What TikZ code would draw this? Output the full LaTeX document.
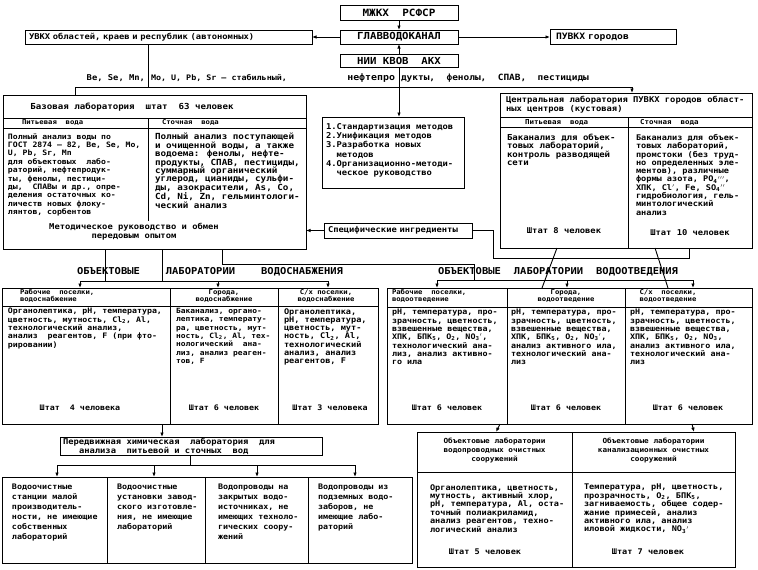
\documentclass[tikz,border=0pt]{standalone}
\usepackage{fontspec}
\setmainfont{DejaVu Sans Mono}[FakeStretch=1.1]
\usetikzlibrary{arrows.meta}
\newcommand{\myfs}[2]{\fontsize{#1}{#2}\selectfont\bfseries}
\newcommand{\sbs}[1]{\textsubscript{#1}}
\begin{document}
\begin{tikzpicture}[x=1pt,y=-1pt,
  box/.style={draw, line width=0.9pt, inner sep=0pt, outer sep=0pt},
  tx/.style={inner sep=0pt, outer sep=0pt, align=left, anchor=north west},
  arr/.style={line width=0.9pt, -{Latex[length=4.5pt,width=3.5pt]}},
  ln/.style={line width=0.9pt}]
\useasboundingbox[fill=white] (0,0) rectangle (758,570);

% ---------- top ----------
\node[box, minimum width=118pt, minimum height=15pt, font=\myfs{10}{11}] (mz) at (399,12.5) {МЖКХ\ \ РСФСР};
\node[box, minimum width=118pt, minimum height=14pt, font=\myfs{9.7}{11}] (glav) at (399,37) {ГЛАВВОДОКАНАЛ};
\node[box, minimum width=118pt, minimum height=13pt, font=\myfs{9.7}{11}] (nii) at (399,60.5) {НИИ КВОВ\ \ АКХ};
\node[box, anchor=west, minimum height=14pt, text width=279pt, inner xsep=4pt, align=left, font=\myfs{8}{9}] (uvkx) at (25,37) {УВКХ областей, краев и республик (автономных)};
\node[box, anchor=west, minimum height=15pt, text width=114pt, inner xsep=6pt, align=left, font=\myfs{8.8}{9}] (puv) at (550,37) {ПУВКХ городов};
\draw[arr] (mz) -- (glav);
\draw[arr] (nii) -- (glav);
\draw[arr] (glav) -- (uvkx);
\draw[arr] (glav) -- (puv);

\node[tx, anchor=base east, font=\myfs{8}{9}] (l1) at (145,80) {Be, Se, Mn,};
\node[tx, anchor=base west, font=\myfs{7.6}{9}] (l2) at (151,80) {Mo, U, Pb, Sr – стабильный,};
\node[tx, anchor=base east, font=\myfs{9}{9}] (l3) at (395,80) {нефтепро};
\node[tx, anchor=base west, font=\myfs{8.6}{9}] (l4) at (401,80) {дукты,\ \ фенолы,\ \ СПАВ,\ \ пестициды};

% ---------- base laboratory ----------
\node[box, minimum width=303pt, minimum height=154pt, anchor=north west] (base) at (3,95) {};
\draw[ln] (3,118) -- (306,118);
\draw[ln] (3,128) -- (306,128);
\draw[ln] (148,118) -- (148,221);
\node[font=\myfs{8.3}{9}, inner sep=0pt] (bt) at (132,107) {Базовая лаборатория\ \ штат\ \ 63 человек};
\node[tx, anchor=west, font=\myfs{6.6}{8}] (bh1) at (22,123) {Питьевая\ \ вода};
\node[tx, anchor=west, font=\myfs{6.6}{8}] (bh2) at (162,123) {Сточная\ \ вода};
\node[tx, font=\myfs{7.4}{8.4}] (bl) at (8,133.3) {Полный анализ воды по\\
ГОСТ 2874 – 82, Be, Se, Mo,\\
U, Pb, Sr, Mn\\
для объектовых\ \ лабо-\\
раторий, нефтепродук-\\
ты, фенолы, пестици-\\
ды,\ \ СПАВы и др., опре-\\
деления остаточных ко-\\
личеств новых флоку-\\
лянтов, сорбентов};
\node[tx, font=\myfs{8.4}{8.4}] (br) at (155,133.3) {Полный анализ поступающей\\
и очищенной воды, а также\\
водоема: фенолы, нефте-\\
продукты, СПАВ, пестициды,\\
суммарный органический\\
углерод, цианиды, сульфи-\\
ды, азокрасители, As, Co,\\
Cd, Ni, Zn, гельминтологи-\\
ческий анализ};
\node[inner sep=0pt, anchor=north, align=center, font=\myfs{8}{9}] (bm) at (134,223.3) {Методическое руководство и обмен\\передовым опытом};

% ---------- bus from top ----------
\coordinate (busL) at (75,87);
\coordinate (busR) at (632,87);
\coordinate (j1) at (148,87);

% ---------- central laboratory ----------
\node[box, minimum width=252pt, minimum height=155pt, anchor=north west] (cent) at (500,93) {};
\draw[ln] (500,117) -- (752,117);
\draw[ln] (500,127) -- (752,127);
\draw[ln] (628,117) -- (628,248);
\node[tx, font=\myfs{8}{9}] (ct) at (506,96.3) {Центральная лаборатория ПУВКХ городов област-\\ных центров (кустовая)};
\node[tx, anchor=west, font=\myfs{6.8}{8}] (ch1) at (525,122) {Питьевая\ \ вода};
\node[tx, anchor=west, font=\myfs{6.8}{8}] (ch2) at (640,122) {Сточная\ \ вода};
\node[tx, font=\myfs{8.2}{8}] (cl) at (507,134.3) {Баканализ для объек-\\
товых лабораторий,\\
контроль разводящей\\
сети};
\node[tx, font=\myfs{7.8}{8.3}] (cr) at (636,134.3) {Баканализ для объек-\\
товых лабораторий,\\
промстоки (без труд-\\
но определенных эле-\\
ментов), различные\\
формы азота, PO\sbs{4}$'''$,\\
ХПК, Cl$'$, Fe, SO\sbs{4}$''$\\
гидробиология, гель-\\
минтологический\\
анализ};
\node[font=\myfs{8}{9}, inner sep=0pt] (cs1) at (564,231) {Штат 8 человек};
\node[font=\myfs{8}{9}, inner sep=0pt] (cs2) at (690,233) {Штат 10 человек};

\draw[ln] (base.north -| busL) -- (busL) -- (busR);
\draw[arr] (busR) -- (busR |- cent.north);
\draw[ln] (uvkx.south -| j1) -- (j1);

% ---------- methods ----------
\node[box, minimum width=142pt, minimum height=71pt, anchor=north west] (meth) at (322,117) {};
\node[tx, font=\myfs{8}{9.3}] (mt) at (326,123.3) {1.Стандартизация методов\\
2.Унификация методов\\
3.Разработка новых\\
\ \ методов\\
4.Организационно-методи-\\
\ \ ческое руководство};
\draw[arr] (nii.south) -- (nii.south |- meth.north);

% ---------- specific ingredients ----------
\node[box, anchor=west, minimum height=15pt, text width=140pt, inner xsep=4pt, align=left, font=\myfs{8}{9}] (spec) at (324,230.5) {Специфические ингредиенты};
\draw[arr] (spec.west) -- (spec.west -| base.east);
\coordinate (c2) at (493,258);
\coordinate (c3) at (689,258);
\draw[ln] (spec.east) -- (spec.east -| c2) -- (c2) -- (c3) -- (c3 |- cent.south);

% ---------- headings ----------
\node[tx, anchor=west, text width=266pt, font=\myfs{9.5}{10}] (hs) at (77,272) {ОБЪЕКТОВЫЕ\hspace{26pt}ЛАБОРАТОРИИ\hfill ВОДОСНАБЖЕНИЯ};
\node[tx, anchor=west, text width=240pt, font=\myfs{9.5}{10}] (ho) at (438,272) {ОБЪЕКТОВЫЕ\hfill ЛАБОРАТОРИИ\hfill ВОДООТВЕДЕНИЯ};

% ---------- water supply labs ----------
\node[box, minimum width=168pt, minimum height=136pt, anchor=north west] (ws1) at (2,288) {};
\node[box, minimum width=108pt, minimum height=136pt, anchor=north west] (ws2) at (170,288) {};
\node[box, minimum width=100pt, minimum height=136pt, anchor=north west] (ws3) at (278,288) {};
\draw[ln] (2,306) -- (378,306);
\node[tx, font=\myfs{6.6}{7}] (ws1h) at (20,289.8) {Рабочие\ \ поселки,\\водоснабжение};
\node[tx, anchor=north, align=center, font=\myfs{6.6}{7}] (ws2h) at (224,289.8) {Города,\\водоснабжение};
\node[tx, anchor=north, align=center, font=\myfs{6.6}{7}] (ws3h) at (326,289.8) {С/х поселки,\\водоснабжение};
\node[tx, font=\myfs{7.5}{8.3}] (ws1t) at (8,308.3) {Органолептика, pH, температура,\\
цветность, мутность, Cl\sbs{2}, Al,\\
технологический анализ,\\
анализ\ \ реагентов, F (при фто-\\
рировании)};
\node[tx, font=\myfs{7.2}{8.3}] (ws2t) at (176,308.3) {Баканализ, органо-\\
лептика, температу-\\
ра, цветность, мут-\\
ность, Cl\sbs{2}, Al, тех-\\
нологический\ \ ана-\\
лиз, анализ реаген-\\
тов, F};
\node[tx, font=\myfs{7.8}{8.3}] (ws3t) at (284,308.3) {Органолептика,\\
pH, температура,\\
цветность, мут-\\
ность, Cl\sbs{2}, Al,\\
технологический\\
анализ, анализ\\
реагентов, F};
\node[font=\myfs{7.6}{9}, inner sep=0pt] (ws1s) at (80,408) {Штат\ \ 4 человека};
\node[font=\myfs{7.6}{9}, inner sep=0pt] (ws2s) at (224,408) {Штат 6 человек};
\node[font=\myfs{7.6}{9}, inner sep=0pt] (ws3s) at (330,408) {Штат 3 человека};

\coordinate (wsbL) at (80,281);
\coordinate (wsbM) at (218,281);
\coordinate (wsbR) at (328,281);
\coordinate (bj1) at (105,281);
\coordinate (bj2) at (162,281);
\draw[ln] (bj1 |- base.south) -- (bj1);
\draw[ln] (bj2 |- base.south) -- (bj2);
\draw[ln] (wsbL) -- (wsbR);
\draw[arr] (wsbL) -- (wsbL |- ws1.north);
\draw[arr] (wsbM) -- (wsbM |- ws2.north);
\draw[arr] (wsbR) -- (wsbR |- ws3.north);

% ---------- sewerage labs ----------
\node[box, minimum width=120pt, minimum height=136pt, anchor=north west] (wo1) at (387,288) {};
\node[box, minimum width=118pt, minimum height=136pt, anchor=north west] (wo2) at (507,288) {};
\node[box, minimum width=127pt, minimum height=136pt, anchor=north west] (wo3) at (625,288) {};
\draw[ln] (387,307) -- (752,307);
\node[tx, font=\myfs{6.6}{7}] (wo1h) at (392,289.8) {Рабочие\ \ поселки,\\водоотведение};
\node[tx, anchor=north, align=center, font=\myfs{6.6}{7}] (wo2h) at (566,289.8) {Города,\\водоотведение};
\node[tx, anchor=north, align=center, font=\myfs{6.6}{7}] (wo3h) at (668,289.8) {С/х\ \ поселки,\\водоотведение};
\node[tx, font=\myfs{7.6}{8.3}] (wo1t) at (392,309.3) {pH, температура, про-\\
зрачность, цветность,\\
взвешенные вещества,\\
ХПК, БПК\sbs{5}, O\sbs{2}, NO\sbs{3}$'$,\\
технологический ана-\\
лиз, анализ активно-\\
го ила};
\node[tx, font=\myfs{7.6}{8.3}] (wo2t) at (511,309.3) {pH, температура, про-\\
зрачность, цветность,\\
взвешенные вещества,\\
ХПК, БПК\sbs{5}, O\sbs{2}, NO\sbs{3}$'$,\\
анализ активного ила,\\
технологический ана-\\
лиз};
\node[tx, font=\myfs{7.6}{8.3}] (wo3t) at (630,309.3) {pH, температура, про-\\
зрачность, цветность,\\
взвешенные вещества,\\
ХПК, БПК\sbs{5}, O\sbs{2}, NO\sbs{3},\\
анализ активного ила,\\
технологический ана-\\
лиз};
\node[font=\myfs{7.6}{9}, inner sep=0pt] (wo1s) at (447,408) {Штат 6 человек};
\node[font=\myfs{7.6}{9}, inner sep=0pt] (wo2s) at (566,408) {Штат 6 человек};
\node[font=\myfs{7.6}{9}, inner sep=0pt] (wo3s) at (688,408) {Штат 6 человек};

\coordinate (c4) at (222,264);
\coordinate (c5) at (474,264);
\coordinate (wobL) at (437,280);
\coordinate (wobM) at (567,280);
\coordinate (wobR) at (693,280);
\draw[ln] (c4 |- base.south) -- (c4) -- (c5) -- (c5 |- wobL);
\draw[ln] (wobL) -- (wobR);
\draw[arr] (wobL) -- (wobL |- wo1.north);
\draw[arr] (wobM) -- (wobM |- wo2.north);
\draw[arr] (wobR) -- (wobR |- wo3.north);
\coordinate (s1a) at (557,0);
\coordinate (s1b) at (542,0);
\coordinate (s2a) at (655,0);
\coordinate (s2b) at (668,0);
\draw[ln] (s1a |- cent.south) -- (s1b |- wo2.north);
\draw[ln] (s2a |- cent.south) -- (s2b |- wo3.north);

% ---------- mobile lab ----------
\node[box, minimum width=262pt, minimum height=18pt, anchor=north west] (mob) at (60,437) {};
\node[tx, font=\myfs{8}{9.5}] (mobt) at (63,437.8) {Передвижная химическая\ \ лаборатория\ \ для\\\hspace*{16pt}анализа\ \ питьевой и сточных\ \ вод};
\coordinate (p1) at (162,0);
\draw[arr] (p1 |- ws1.south) -- (p1 |- mob.north);

% ---------- bottom boxes ----------
\node[box, minimum width=105pt, minimum height=86pt, anchor=north west] (b1) at (2,477) {};
\node[box, minimum width=98pt, minimum height=86pt, anchor=north west] (b2) at (107,477) {};
\node[box, minimum width=103pt, minimum height=86pt, anchor=north west] (b3) at (205,477) {};
\node[box, minimum width=104pt, minimum height=86pt, anchor=north west] (b4) at (308,477) {};
\node[tx, font=\myfs{7.6}{10}] (b1t) at (12,484.3) {Водоочистные\\
станции малой\\
производитель-\\
ности, не имеющие\\
собственных\\
лабораторий};
\node[tx, font=\myfs{7.6}{10}] (b2t) at (117,484.3) {Водоочистные\\
установки завод-\\
ского изготовле-\\
ния, не имеющие\\
лабораторий};
\node[tx, font=\myfs{7.6}{10}] (b3t) at (218,484.3) {Водопроводы на\\
закрытых водо-\\
источниках, не\\
имеющих техноло-\\
гических соору-\\
жений};
\node[tx, font=\myfs{7.6}{10}] (b4t) at (318,484.3) {Водопроводы из\\
подземных водо-\\
заборов, не\\
имеющие лабо-\\
раторий};
\coordinate (mb) at (190,465);
\coordinate (mbL) at (57,465);
\coordinate (mb2) at (154,465);
\coordinate (mb3) at (257,465);
\coordinate (mbR) at (355,465);
\draw[ln] (mb |- mob.south) -- (mb);
\draw[ln] (mbL) -- (mbR);
\draw[arr] (mbL) -- (mbL |- b1.north);
\draw[arr] (mb2) -- (mb2 |- b2.north);
\draw[arr] (mb3) -- (mb3 |- b3.north);
\draw[arr] (mbR) -- (mbR |- b4.north);

% ---------- treatment plant labs ----------
\node[box, minimum width=155pt, minimum height=135pt, anchor=north west] (ob1) at (417,432) {};
\node[box, minimum width=163pt, minimum height=135pt, anchor=north west] (ob2) at (572,432) {};
\draw[ln] (417,472) -- (735,472);
\node[tx, anchor=north, align=center, font=\myfs{7}{9}] (ob1h) at (494.5,438) {Объектовые лаборатории\\водопроводных очистных\\сооружений};
\node[tx, anchor=north, align=center, font=\myfs{7}{9}] (ob2h) at (653.5,438) {Объектовые лаборатории\\канализационных очистных\\сооружений};
\node[tx, font=\myfs{7.8}{8.4}] (ob1t) at (430,484.3) {Органолептика, цветность,\\
мутность, активный хлор,\\
pH, температура, Al, оста-\\
точный полиакриламид,\\
анализ реагентов, техно-\\
логический анализ};
\node[tx, font=\myfs{7.8}{8.4}] (ob2t) at (584,484.3) {Температура, pH, цветность,\\
прозрачность, O\sbs{2}, БПК\sbs{5},\\
загниваемость, общее содер-\\
жание примесей, анализ\\
активного ила, анализ\\
иловой жидкости, NO\sbs{3}$'$};
\node[font=\myfs{7.8}{9}, inner sep=0pt] (ob1s) at (485,552) {Штат 5 человек};
\node[font=\myfs{7.8}{9}, inner sep=0pt] (ob2s) at (648,552) {Штат 7 человек};
\coordinate (oa1) at (500,0);
\coordinate (oa2) at (496,0);
\coordinate (oa3) at (692,0);
\coordinate (oa4) at (694,0);
\draw[arr] (oa1 |- wo1.south) -- (oa2 |- ob1.north);
\draw[arr] (oa3 |- wo3.south) -- (oa4 |- ob2.north);
\end{tikzpicture}
\end{document}
